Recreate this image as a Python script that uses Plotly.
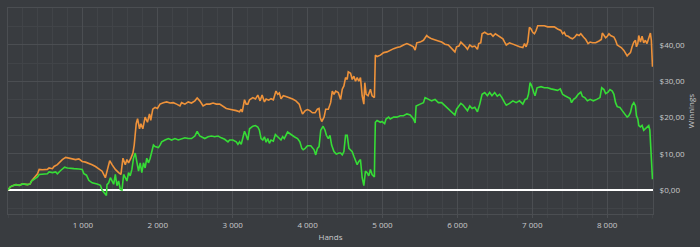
import plotly.graph_objects as go

# ---- data ----
green_hands = [0, 31, 62, 106, 150, 195, 261, 296, 314, 349, 394, 416, 460, 526, 548, 593, 637, 659, 703, 756, 792, 836, 880, 946, 991, 1013, 1048, 1079, 1123, 1190, 1234, 1256, 1278, 1314, 1322, 1345, 1367,
               1389, 1411, 1433, 1455, 1477, 1500, 1522, 1544, 1566, 1588, 1610, 1632, 1654, 1676, 1699, 1721, 1743, 1765, 1787, 1809, 1831, 1853, 1875, 1898, 1920, 1942, 1964, 2008, 2030, 2052, 2097, 2141, 2185, 2229, 2274, 2318, 2362, 2406, 2450, 2495, 2526, 2561, 2627, 2672, 2716, 2760, 2804, 2848, 2893, 2937,
               2959, 3003, 3048, 3070, 3092, 3114, 3136, 3158, 3180, 3202, 3225, 3269, 3304, 3335, 3357, 3379, 3402, 3424, 3446, 3468, 3490, 3512, 3543, 3570, 3601, 3623, 3645, 3667, 3689, 3733, 3777, 3822, 3866, 3897, 3923, 3941, 3968, 3999, 4043, 4065, 4087, 4109, 4131, 4153, 4176, 4207, 4233, 4251, 4277, 4299, 4321, 4352, 4383, 4419,
               4441, 4463, 4485, 4507, 4529, 4552, 4574, 4596, 4618, 4640, 4662, 4684, 4706, 4729, 4751, 4773, 4795, 4817, 4839, 4861, 4892, 4897, 4905, 4928, 4972, 4994, 5029, 5047, 5082, 5104, 5149, 5193, 5237, 5281, 5326, 5370, 5414, 5436, 5449, 5503, 5547, 5569, 5613, 5657, 5702, 5746, 5790, 5834, 5879,
               5923, 5967, 5989, 6020, 6047, 6078, 6109, 6135, 6166, 6197, 6232, 6268, 6299, 6330, 6365, 6400, 6431, 6462, 6498, 6533, 6564, 6595, 6631, 6653, 6697, 6741, 6785, 6830, 6874, 6905, 6931, 6949, 6971, 6993, 7020, 7037, 7064, 7117, 7161, 7205,
               7250, 7294, 7338, 7374, 7405, 7436, 7471, 7506, 7524, 7551, 7582, 7613, 7648, 7670, 7701, 7736, 7772, 7816, 7860, 7904, 7927, 7957, 7980, 8011, 8037, 8068, 8090, 8112, 8134, 8170, 8201, 8232, 8267, 8289, 8311, 8333, 8356, 8378, 8391, 8409, 8422, 8444, 8466, 8488, 8510, 8532, 8555, 8570, 8585, 8595, 8605]
green_win = [0, 0.9, 1.2, 1.5, 1.3, 1.7, 1.5, 1.7, 2.5, 3.0, 3.6, 4.3, 4.3, 4.5, 5.0, 4.8, 5.0, 4.5, 5.4, 6.3, 6.1, 5.9, 5.9, 5.8, 5.7, 4.5, 4.1, 2.7, 2.0, 1.7, 1.3, 0.0, -0.7, -1.5, 1.5, 2.0, 3.4,
             2.5, 1.6, 4.3, 1.2, 2.5, 0.2, 0.0, 4.3, 3.4, 2.5, 4.8, 3.9, 5.7, 8.8, 10.2, 7.0, 5.2, 7.5, 4.8, 7.5, 6.1, 8.8, 7.5, 8.8, 11.1, 12.4, 12.0, 11.7, 12.4, 13.3, 13.8, 14.2, 13.8, 14.2, 13.8, 14.2, 14.4, 14.2, 14.2, 14.9, 16.2, 14.9, 14.2, 14.7, 14.9, 14.7, 14.9, 14.4, 14.0, 13.3,
             13.8, 13.8, 13.3, 12.6, 13.3, 12.6, 14.2, 16.2, 15.1, 13.8, 16.9, 17.6, 17.8, 17.4, 16.5, 14.2, 13.8, 14.7, 13.2, 14.2, 12.9, 13.8, 13.5, 15.3, 14.7, 14.2, 13.8, 14.7, 14.2, 16.0, 15.3, 14.7, 14.2, 13.3, 11.5, 11.1, 11.5, 12.2, 12.2, 11.5, 11.1, 9.7, 11.5, 12.0, 16.5, 17.6, 16.5, 15.1, 14.2, 15.1, 12.4, 10.6, 9.9, 10.2,
             10.2, 9.7, 10.6, 15.1, 15.1, 11.5, 11.1, 10.6, 9.3, 7.9, 7.0, 7.9, 8.4, 3.4, 1.2, 5.2, 4.8, 3.9, 5.7, 4.3, 3.6, 10.6, 18.7, 19.2, 18.7, 18.9, 18.3, 19.6, 20.1, 19.6, 20.1, 20.1, 20.5, 20.5, 21.0, 20.7, 19.6, 18.5, 23.2, 23.7, 24.1, 25.5, 25.0, 24.6, 25.0, 24.1, 24.1, 23.2, 22.3,
             21.4, 20.7, 22.3, 23.2, 23.9, 23.4, 22.5, 21.9, 23.2, 22.5, 22.8, 21.6, 23.7, 26.4, 26.9, 26.0, 26.9, 26.0, 26.9, 25.9, 26.4, 25.5, 24.1, 23.4, 23.9, 24.6, 24.1, 24.6, 23.7, 25.0, 25.2, 26.4, 29.6, 28.7, 26.9, 26.0, 28.2, 28.5, 28.2, 28.2,
             27.9, 27.7, 27.5, 27.9, 26.4, 26.0, 25.5, 25.2, 24.1, 25.0, 25.5, 26.4, 27.0, 25.8, 25.5, 24.6, 25.0, 24.6, 25.0, 25.5, 28.2, 27.7, 26.6, 27.0, 27.7, 27.3, 26.4, 24.1, 23.0, 22.8, 21.9, 21.0, 20.1, 20.5, 21.4, 23.4, 24.1, 23.2, 20.5, 19.6, 17.8, 17.4, 17.8, 16.5, 16.9, 17.4, 17.8, 16.5, 9.7, 6.1, 3.0]

orange_hands = [0, 31, 62, 106, 150, 195, 261, 296, 314, 349, 394, 416, 460, 526, 548, 593, 615, 659, 694, 725, 770, 814, 858, 902, 946, 991, 1035, 1079, 1123, 1168, 1212, 1256, 1300, 1331, 1358,
                1389, 1433, 1477, 1508, 1535, 1566, 1588, 1610, 1641, 1668, 1685, 1712, 1730, 1756, 1774, 1800, 1831, 1862, 1889, 1906, 1933, 1964, 1995, 2030, 2074, 2119, 2163, 2207, 2251, 2296, 2318, 2362, 2406, 2450, 2495, 2526, 2561, 2605, 2649, 2694, 2738, 2782, 2826, 2871, 2915,
                2959, 3003, 3048, 3092, 3114, 3127, 3158, 3180, 3202, 3225, 3269, 3304, 3335, 3366, 3393, 3424, 3446, 3481, 3512, 3543, 3578, 3601, 3623, 3645, 3676, 3711, 3755, 3800, 3844, 3888, 3910, 3932, 3968, 3999, 4030, 4065, 4100, 4131, 4153, 4167, 4189, 4220, 4242, 4277,
                4308, 4330, 4353, 4375, 4410, 4441, 4463, 4485, 4507, 4529, 4543, 4574, 4596, 4618, 4640, 4662, 4684, 4706, 4729, 4751, 4764, 4782, 4808, 4839, 4861, 4892, 4905, 4928, 4972, 5016, 5060, 5104, 5149, 5193, 5237, 5281, 5326, 5370, 5414, 5436, 5458, 5503, 5547, 5591, 5613, 5657, 5702, 5746, 5790, 5834, 5879,
                5923, 5967, 5989, 6020, 6047, 6078, 6109, 6135, 6166, 6197, 6232, 6268, 6285, 6312, 6330, 6365, 6409, 6445, 6476, 6507, 6542, 6577, 6608, 6631, 6653, 6697, 6741, 6785, 6830, 6874, 6896, 6918, 6940, 6962, 6984, 7006, 7029, 7051, 7073, 7117, 7161, 7205,
                7250, 7294, 7338, 7382, 7405, 7427, 7449, 7480, 7506, 7537, 7568, 7595, 7626, 7648, 7683, 7714, 7745, 7772, 7803, 7847, 7891, 7922, 7935, 7957, 7980, 8002, 8024, 8046, 8068, 8090, 8112, 8134, 8157, 8188, 8223, 8245, 8267, 8289, 8311, 8333, 8356, 8378, 8391, 8409, 8422, 8444, 8466, 8488, 8510, 8532, 8555, 8577, 8590, 8599, 8605]
orange_win = [0, 0.9, 1.2, 1.5, 1.3, 1.7, 1.5, 1.7, 2.5, 3.4, 4.5, 5.7, 5.6, 5.7, 6.1, 5.9, 6.5, 7.0, 7.9, 8.4, 9.0, 8.8, 8.6, 8.4, 8.6, 7.9, 7.7, 7.4, 7.0, 6.5, 5.9, 5.2, 3.4, 5.7, 8.1,
              7.0, 5.7, 4.8, 4.3, 8.8, 7.0, 8.4, 7.5, 8.8, 10.2, 12.4, 18.3, 19.7, 16.9, 18.3, 16.9, 20.1, 18.7, 21.0, 19.2, 22.3, 22.8, 22.5, 23.7, 24.1, 24.3, 24.0, 24.1, 23.7, 23.2, 24.1, 23.7, 24.3, 24.0, 24.6, 25.4, 24.6, 23.2, 23.7, 23.7, 24.0, 23.7, 23.7, 23.1, 22.5,
              22.3, 22.2, 21.9, 21.6, 22.3, 21.5, 24.9, 23.7, 23.7, 24.9, 25.5, 25.1, 26.2, 24.6, 26.2, 24.3, 25.1, 24.8, 25.2, 24.9, 27.3, 26.4, 26.8, 25.2, 26.0, 25.8, 25.5, 25.1, 24.6, 23.7, 22.3, 21.0, 21.9, 22.2, 21.9, 21.3, 21.3, 22.3, 22.5, 20.1, 18.9, 20.1, 22.3, 22.3,
              24.1, 27.3, 26.4, 27.3, 26.9, 25.0, 27.8, 28.7, 31.0, 30.5, 32.6, 32.2, 30.5, 31.4, 30.0, 31.0, 30.0, 31.0, 26.0, 23.7, 29.6, 26.4, 26.0, 27.8, 26.0, 25.5, 37.2, 36.8, 37.2, 37.9, 38.1, 38.6, 39.0, 39.3, 39.5, 40.0, 40.4, 40.0, 39.5, 38.6, 40.6, 40.8, 41.3, 42.6, 42.2, 41.7, 41.5, 41.1, 40.8, 40.2, 40.0,
              39.0, 38.1, 39.5, 39.7, 40.8, 40.2, 39.5, 38.8, 40.0, 39.5, 39.7, 38.8, 40.4, 40.6, 43.1, 43.5, 42.9, 43.1, 42.4, 43.1, 42.6, 42.2, 41.7, 40.8, 40.0, 40.6, 40.2, 40.0, 39.5, 39.3, 40.4, 39.5, 40.8, 44.9, 44.4, 43.5, 43.1, 44.0, 45.3, 45.3, 45.3, 45.0,
              44.9, 45.0, 44.4, 44.0, 43.1, 43.5, 42.6, 42.4, 42.0, 41.7, 42.2, 42.9, 42.6, 43.1, 42.2, 41.5, 40.4, 40.8, 40.6, 40.6, 41.1, 41.5, 43.3, 42.6, 42.0, 42.4, 43.1, 42.6, 42.4, 42.2, 41.3, 40.0, 39.7, 39.3, 38.5, 37.7, 37.0, 37.5, 37.9, 39.5, 40.8, 41.3, 39.5, 40.4, 42.6, 40.8, 42.4, 40.6, 41.3, 40.4, 42.0, 43.3, 41.3, 37.2, 34.0]

x_tickvals = [1000, 2000, 3000, 4000, 5000, 6000, 7000, 8000]
x_ticktext = ["1 000", "2 000", "3 000", "4 000", "5 000", "6 000", "7 000", "8 000"]
y_tickvals = [0, 10, 20, 30, 40]
y_ticktext = ["$0,00", "$10,00", "$20,00", "$30,00", "$40,00"]

BG = "#393c40"
GRID = "#4b4e52"
MINOR = "#414448"
TXT = "#c9cacc"

fig = go.Figure()
fig.add_trace(go.Scatter(x=orange_hands, y=orange_win, mode="lines",
                         line=dict(color="#ee923a", width=1.6), hoverinfo="skip"))
fig.add_trace(go.Scatter(x=green_hands, y=green_win, mode="lines",
                         line=dict(color="#36dc36", width=1.6), hoverinfo="skip"))

fig.update_layout(
    width=700, height=247,
    margin=dict(l=7, r=44, t=7, b=30),
    paper_bgcolor=BG, plot_bgcolor=BG,
    showlegend=False,
    font=dict(family="Open Sans", size=8, color=TXT),
)
fig.update_xaxes(
    range=[0, 8612], tickvals=x_tickvals, ticktext=x_ticktext,
    showgrid=True, gridcolor=GRID, gridwidth=1,
    ticks="outside", ticklen=3, tickcolor=GRID,
    minor=dict(tick0=0, dtick=200, showgrid=True, gridcolor=MINOR, ticks="outside", ticklen=3, tickcolor=MINOR),
    showline=True, linecolor=GRID, mirror=True, zeroline=False,
    title=dict(text="Hands", font=dict(size=8, color=TXT), standoff=5),
    tickfont=dict(size=8, color=TXT),
)
fig.update_yaxes(
    range=[-6.6, 50.2], side="right", tickvals=y_tickvals, ticktext=y_ticktext,
    showgrid=True, gridcolor=GRID, gridwidth=1,
    minor=dict(tick0=0, dtick=5, showgrid=True, gridcolor=MINOR),
    showline=True, linecolor=GRID, mirror=True,
    zeroline=True, zerolinecolor="#ffffff", zerolinewidth=2,
    title=dict(text="Winnings", font=dict(size=8, color=TXT), standoff=2),
    tickfont=dict(size=8, color=TXT), ticks="", ticklabelstandoff=4,
)

fig.write_html("out.html")
